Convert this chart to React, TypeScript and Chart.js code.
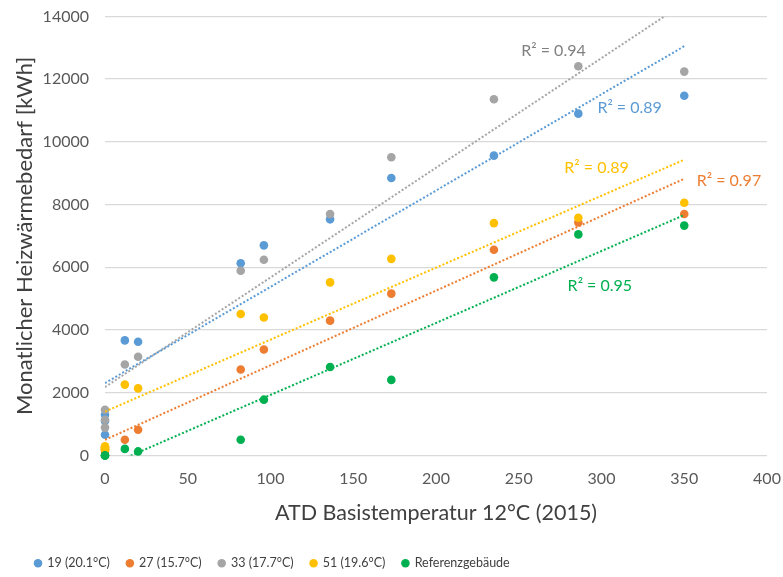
import React, { useEffect, useRef } from 'react';
import { Chart, registerables } from 'chart.js';

Chart.register(...registerables);

// ATD Basistemperatur 12°C (2015), one value per month (sorted)
const atd = [0, 0, 0, 12, 20, 82, 96, 136, 173, 235, 286, 350];

const seriesNames = ['19 (20.1°C)', '27 (15.7°C)', '33 (17.7°C)', '51 (19.6°C)', 'Referenzgebäude'];
const seriesColors = ['#5B9BD5', '#ED7D31', '#A5A5A5', '#FFC000', '#00B050'];

const s19 = [1300, 1100, 660, 3670, 3625, 6130, 6700, 7530, 8850, 9560, 10900, 11470];
const s27 = [250, 200, 150, 500, 820, 2740, 3380, 4300, 5160, 6560, 7430, 7700];
const s33 = [1460, 1140, 890, 2900, 3150, 5890, 6240, 7700, 9510, 11360, 12410, 12240];
const s51 = [290, 250, 190, 2260, 2140, 4510, 4400, 5520, 6270, 7410, 7580, 8060];
const sRef = [0, 0, 0, 210, 130, 500, 1780, 2820, 2410, 5680, 7050, 7330];
const seriesValues = [s19, s27, s33, s51, sRef];

// linear trend lines: value at x = 0 and at x = 350
const trendX = [0, 350];
const trendStart = [2310, 500, 2180, 1400, -362];
const trendEnd = [13050, 8823, 14420, 9430, 7667];

const r2Texts = ['R² = 0.89', 'R² = 0.97', 'R² = 0.94', 'R² = 0.89', 'R² = 0.95'];
const r2TextColors = ['#5B9BD5', '#ED7D31', '#808080', '#FFC000', '#00B050'];
// anchors of the R² labels, in data units
const r2AnchorX = [317, 377, 271, 297, 299];
const r2AnchorY = [11097, 8769, 12915, 9184, 5421];

const xMax = 400;
const xStep = 50;
const yMax = 14000;
const yStep = 2000;

const FONT = 'Lato, "Open Sans", sans-serif';
const drawOrder = [5, 4, 3, 2, 1];

const r2Plugin = {
  id: 'r2Labels',
  afterDatasetsDraw(chart: any) {
    const { ctx, scales } = chart;
    ctx.save();
    ctx.font = `16px ${FONT}`;
    ctx.textAlign = 'center';
    ctx.textBaseline = 'middle';
    r2Texts.forEach((t, i) => {
      ctx.fillStyle = r2TextColors[i];
      ctx.fillText(t, scales.x.getPixelForValue(r2AnchorX[i]), scales.y.getPixelForValue(r2AnchorY[i]));
    });
    ctx.restore();
  },
};

const legendPlacePlugin = {
  id: 'legendPlace',
  afterLayout(chart: any) {
    const lg = chart.legend;
    if (!lg) return;
    lg.left = 18;
    lg.top = 540;
  },
};

export default function App() {
  const ref = useRef<HTMLCanvasElement | null>(null);

  useEffect(() => {
    document.body.style.margin = '0';
    const canvas = ref.current;
    if (!canvas) return;

    const scatterSets = seriesNames.map((name, i) => ({
      label: name,
      data: atd.map((x, k) => ({ x, y: seriesValues[i][k] })),
      backgroundColor: seriesColors[i],
      borderColor: seriesColors[i],
      borderWidth: 0,
      pointRadius: 4.3,
      pointHoverRadius: 4.3,
      clip: false,
      order: drawOrder[i],
    }));
    const trendSets = seriesNames.map((name, i) => ({
      label: 'trend ' + name,
      data: [
        { x: trendX[0], y: trendStart[i] },
        { x: trendX[1], y: trendEnd[i] },
      ],
      showLine: true,
      borderColor: seriesColors[i],
      backgroundColor: seriesColors[i],
      borderWidth: 2,
      borderDash: [2, 2],
      pointRadius: 0,
      pointHoverRadius: 0,
      order: 0,
    }));

    const chart = new Chart(canvas, {
      type: 'scatter',
      data: { datasets: [...scatterSets, ...trendSets] as any },
      plugins: [r2Plugin, legendPlacePlugin],
      options: {
        animation: false,
        responsive: false,
        layout: { padding: { top: 16, right: 16, left: 0, bottom: 0 } },
        plugins: {
          tooltip: { enabled: false },
          legend: {
            position: 'bottom',
            align: 'start',
            labels: {
              filter: (item: any) => item.datasetIndex < seriesNames.length,
              sort: (a: any, b: any) => a.datasetIndex - b.datasetIndex,
              usePointStyle: true,
              pointStyle: 'circle',
              boxWidth: 6,
              boxHeight: 6,
              padding: 17,
              color: '#404040',
              font: { family: FONT, size: 12.5 },
            },
          },
        },
        scales: {
          x: {
            type: 'linear',
            min: 0,
            max: xMax,
            afterFit: (s: any) => {
              s.height = 82;
            },
            grid: { display: false, drawTicks: true, tickLength: 14 },
            border: { display: false },
            ticks: { stepSize: xStep, color: '#595959', font: { family: FONT, size: 16 }, padding: 0 },
            title: {
              display: true,
              text: 'ATD Basistemperatur 12°C (2015)',
              color: '#404040',
              font: { family: FONT, size: 21.5 },
              padding: { top: 0, bottom: 12 },
            },
          },
          y: {
            type: 'linear',
            min: 0,
            max: yMax,
            afterFit: (s: any) => {
              s.width = 105;
            },
            grid: { color: '#D9D9D9', lineWidth: 1.3, drawTicks: false },
            border: { display: false },
            ticks: {
              stepSize: yStep,
              color: '#595959',
              font: { family: FONT, size: 16, lineHeight: 0.05 },
              padding: 16,
              callback: (v: any) => String(v),
            },
            title: {
              display: true,
              text: 'Monatlicher Heizwärmebedarf [kWh]',
              color: '#404040',
              font: { family: FONT, size: 22 },
              padding: { top: 12, bottom: 0 },
            },
          },
        },
      },
    });
    return () => chart.destroy();
  }, []);

  return (
    <div style={{ width: 783, height: 577, background: '#fff' }}>
      <canvas ref={ref} width={783} height={577} style={{ display: 'block' }} />
    </div>
  );
}
